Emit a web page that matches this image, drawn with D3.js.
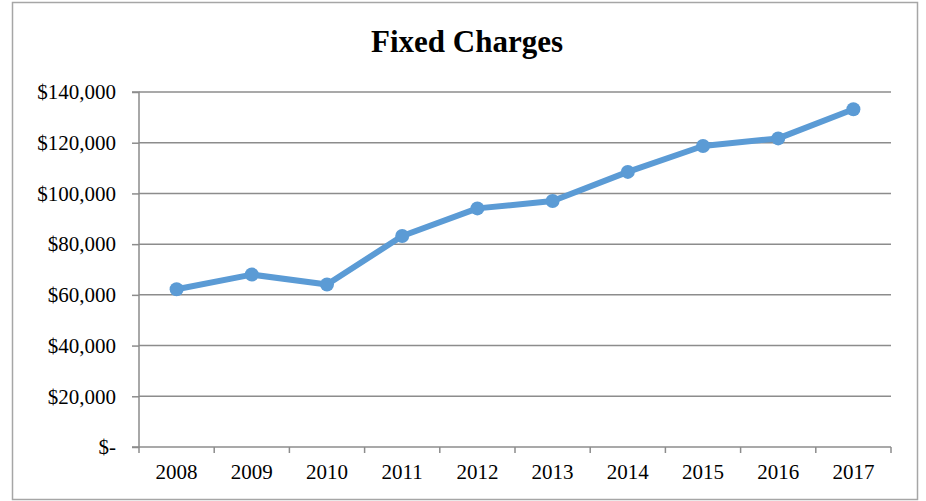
<!DOCTYPE html>
<html>
<head>
<meta charset="utf-8">
<script src="https://cdn.jsdelivr.net/npm/d3@7"></script>
<style>
  body { margin: 0; background: #fff; }
  text { font-family: "Liberation Serif", "Times New Roman", serif; fill: #000; }
</style>
</head>
<body>
<div id="chart"></div>
<script>
var years = ["2008", "2009", "2010", "2011", "2012", "2013", "2014", "2015", "2016", "2017"];
var charges = [62200, 68000, 64100, 83200, 94100, 97000, 108500, 118700, 121700, 133200];
var yTicks = [0, 20000, 40000, 60000, 80000, 100000, 120000, 140000];

var width = 926, height = 501;
var margin = {left: 139, right: 35, top: 92, bottom: 54};

var svg = d3.select("#chart").append("svg")
    .attr("width", width)
    .attr("height", height);

// outer chart border
svg.append("rect")
    .attr("x", 12.5).attr("y", 2.5)
    .attr("width", 905).attr("height", 497)
    .style("fill", "none")
    .style("stroke", "#a6a6a6")
    .style("stroke-width", 1.5);

svg.append("text")
    .attr("x", 467).attr("y", 52)
    .attr("text-anchor", "middle")
    .style("font-size", "31px")
    .style("font-weight", "bold")
    .text("Fixed Charges");

var x = d3.scaleBand().domain(years)
    .range([margin.left, width - margin.right]);
var y = d3.scaleLinear().domain([0, 140000])
    .range([height - margin.bottom, margin.top]);

var fmt = d => d === 0 ? "$-" : "$" + d3.format(",")(d);

// gridlines
svg.append("g")
    .selectAll("line")
    .data(yTicks.filter(d => d > 0))
    .enter()
    .append("line")
        .attr("x1", margin.left).attr("x2", width - margin.right)
        .attr("y1", d => y(d)).attr("y2", d => y(d))
        .style("stroke", "#8c8c8c")
        .style("stroke-width", 1.5);

var yAxis = svg.append("g")
    .attr("transform", "translate(" + margin.left + ",0)")
    .call(d3.axisLeft(y).tickValues(yTicks).tickFormat(fmt).tickSize(7).tickPadding(16));

var xAxis = svg.append("g")
    .attr("transform", "translate(0," + y(0) + ")")
    .call(d3.axisBottom(x).tickSize(0).tickPadding(17));

// category boundary ticks
var bounds = years.map(d => x(d)).concat([x.range()[1]]);
xAxis.selectAll(".bound")
    .data(bounds)
    .enter()
    .append("line")
        .attr("class", "bound")
        .attr("x1", d => d).attr("x2", d => d)
        .attr("y1", 0).attr("y2", 6);

svg.selectAll(".domain, .tick line, .bound")
    .style("stroke", "#8c8c8c")
    .style("stroke-width", 1.5);
svg.selectAll(".tick text")
    .style("font-family", "'Liberation Serif', 'Times New Roman', serif")
    .style("font-size", "21px")
    .style("fill", "#000");
yAxis.select(".domain").attr("d", "M-7," + y(140000) + "H0V" + y(0) + "H-7");
xAxis.select(".domain").attr("d", "M" + x.range()[0] + ",0H" + x.range()[1]);

var line = d3.line()
    .x((d, i) => x(years[i]) + x.bandwidth() / 2)
    .y(d => y(d));

svg.append("path")
    .datum(charges)
    .attr("d", line)
    .style("fill", "none")
    .style("stroke", "#5b9bd5")
    .style("stroke-width", 6)
    .style("stroke-linejoin", "round");

svg.append("g")
    .selectAll("circle")
    .data(charges)
    .enter()
    .append("circle")
        .attr("cx", (d, i) => x(years[i]) + x.bandwidth() / 2)
        .attr("cy", d => y(d))
        .attr("r", 7)
        .style("fill", "#5b9bd5");
</script>
</body>
</html>
